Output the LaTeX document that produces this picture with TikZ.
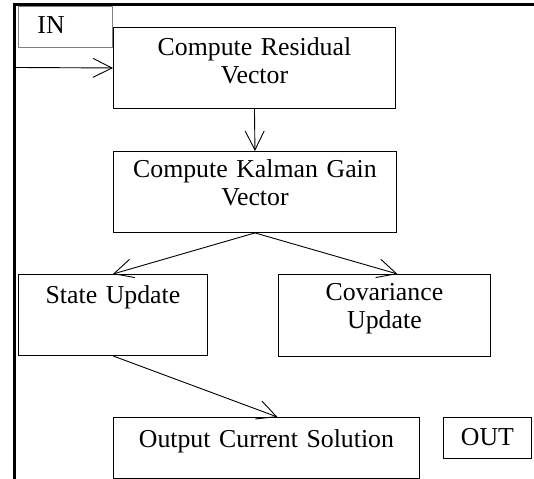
\documentclass[tikz,border=0pt]{standalone}
\usepackage{fontspec}
\setmainfont{Liberation Serif}
\usepackage{tikz}
\usetikzlibrary{arrows.meta,positioning}
\tikzset{
  blk/.style={draw, line width=0.9bp, fill=white, anchor=north west, inner sep=0pt,
    align=center, font=\fontsize{25.8bp}{28.5bp}\selectfont},
  arrow/.style={line width=0.9bp, -{Straight Barb[length=19bp,width=19bp,line width=0.9bp]}},
  frame/.style={line width=3bp}
}

\begin{document}
\begin{tikzpicture}[x=1bp, y=-1bp]
\useasboundingbox (0,0) rectangle (534,479);

% Frame
\draw[frame] (534,5) -- (14,5) -- (14,479);

% Blocks
\node[blk, text width=282bp, text height=28bp, text depth=53bp] (res) at (113,27) {Compute Residual\\Vector};
\node[blk, draw=gray, text width=94bp, text height=27bp, text depth=14bp, align=left] (in) at (18,6) {\hspace*{19bp}IN};
\node[blk, text width=283bp, text height=26bp, text depth=55bp] (kal) at (113,151) {Compute Kalman Gain\\Vector};
\node[blk, text width=189bp, text height=29bp, text depth=52bp] (state) at (18,274) {State Update};
\node[blk, text width=212bp, text height=26bp, text depth=56bp] (cov) at (278,274) {Covariance\\Update};
\node[blk, text width=306bp, text height=30bp, text depth=31bp] (sol) at (113,417) {Output Current Solution};
\node[blk, text width=88bp, text height=28bp, text depth=13bp] (out) at (443,417) {OUT};

% Connectors
\coordinate (src) at (16,67.5);
\draw[arrow] (src) -- (res.west);
\draw[arrow] (res.south) -- (kal.north);
\draw[arrow] (kal.south) -- (state.north);
\draw[arrow] (kal.south) -- ([xshift=13bp]cov.north);
\draw[arrow] (state.south) -- ([xshift=11bp]sol.north);
\end{tikzpicture}
\end{document}
